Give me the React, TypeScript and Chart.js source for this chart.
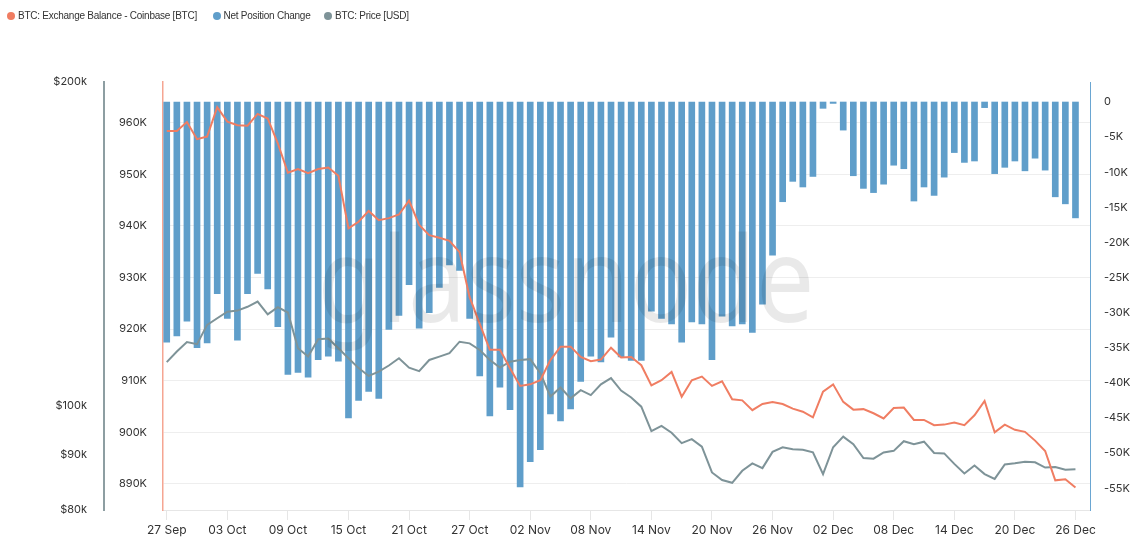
import React, { useEffect, useRef } from 'react';
import { Chart, registerables } from 'chart.js';

Chart.register(...registerables);

// Day index 0 = 27 Sep ... 90 = 26 Dec (daily)
const xTickIndex = [0, 6, 12, 18, 24, 30, 36, 42, 48, 54, 60, 66, 72, 78, 84, 90];
const xTickLabels = ['27 Sep', '03 Oct', '09 Oct', '15 Oct', '21 Oct', '27 Oct', '02 Nov', '08 Nov', '14 Nov', '20 Nov', '26 Nov', '02 Dec', '08 Dec', '14 Dec', '20 Dec', '26 Dec'];

// Net Position Change (thousands BTC)
const netPositionChange = [
  -34.2, -33.3, -31.2, -35.0, -34.3, -27.3, -30.8, -33.9, -27.3, -24.4,
  -26.6, -32.0, -38.8, -38.5, -39.2, -36.7, -36.2, -36.9, -45.0, -42.5,
  -41.2, -42.2, -32.4, -30.4, -26.0, -32.2, -30.0, -26.4, -23.2, -24.0,
  -30.8, -39.0, -44.7, -40.6, -43.8, -54.8, -51.2, -49.5, -44.4, -45.4,
  -43.7, -39.8, -36.2, -37.0, -33.5, -36.3, -36.8, -36.8, -29.8, -30.8,
  -31.6, -34.2, -31.3, -31.6, -36.7, -30.5, -31.9, -31.6, -32.8, -28.8,
  -21.8, -14.2, -11.3, -12.1, -10.6, -0.9, -0.2, -4.0, -10.5, -12.3,
  -12.9, -11.7, -9.0, -9.5, -14.1, -12.1, -13.3, -10.7, -7.2, -8.6,
  -8.4, -0.8, -10.2, -9.3, -8.4, -9.8, -8.0, -9.7, -13.5, -14.5,
  -16.5,
];

// BTC: Exchange Balance - Coinbase (thousands BTC)
const exchangeBalance = [
  958.4, 958.4, 960.1, 956.8, 957.3, 963.0, 960.2, 959.5, 959.4, 961.7,
  960.8, 956.0, 950.3, 951.0, 950.2, 951.0, 951.3, 949.7, 939.5, 940.8,
  942.9, 941.1, 941.5, 942.2, 944.9, 940.2, 938.2, 937.7, 937.1, 934.9,
  926.2, 921.0, 916.0, 916.0, 912.4, 909.0, 909.3, 910.1, 914.0, 916.6,
  916.6, 914.6, 913.8, 914.1, 916.4, 914.5, 914.6, 913.0, 909.1, 910.1,
  911.7, 906.9, 910.1, 910.8, 909.0, 909.9, 906.4, 906.2, 904.3, 905.5,
  905.9, 905.5, 904.6, 904.0, 902.9, 907.9, 909.3, 905.9, 904.4, 904.5,
  903.7, 902.7, 904.7, 904.8, 902.4, 902.4, 901.4, 901.5, 901.9, 901.4,
  903.3, 906.1, 900.0, 901.5, 900.5, 900.1, 898.4, 896.4, 890.7, 890.9,
  889.3,
];

// BTC: Price (thousands USD)
const btcPrice = [
  109.8, 112.3, 114.6, 114.1, 118.9, 120.6, 122.3, 122.6, 123.6, 125.0,
  121.6, 123.5, 122.1, 113.1, 111.1, 115.3, 115.5, 113.1, 110.7, 108.4,
  106.6, 107.6, 109.0, 110.7, 108.5, 107.7, 110.3, 111.1, 111.9, 114.7,
  114.3, 112.7, 110.3, 108.5, 109.9, 110.3, 110.5, 107.2, 102.0, 104.0,
  101.6, 103.4, 102.3, 104.7, 106.1, 103.3, 101.8, 99.8, 94.7, 95.8,
  94.4, 92.3, 93.1, 91.6, 86.7, 85.3, 84.8, 87.0, 88.4, 87.5,
  90.6, 91.5, 91.1, 91.0, 90.5, 86.4, 91.5, 93.6, 92.1, 89.4,
  89.3, 90.5, 90.8, 92.7, 92.1, 92.6, 90.4, 90.3, 88.3, 86.5,
  88.0, 86.4, 85.5, 88.2, 88.4, 88.7, 88.6, 87.6, 87.7, 87.2,
  87.3,
];

const priceTicks = [80, 90, 100, 200];
const balanceTicks = [890, 900, 910, 920, 930, 940, 950, 960];
const netTicks = [0, -5, -10, -15, -20, -25, -30, -35, -40, -45, -50, -55];

const seriesNames = ['BTC: Exchange Balance - Coinbase [BTC]', 'Net Position Change', 'BTC: Price [USD]'];

const COLOR_BAL = '#f07d62';
const COLOR_NET = '#5f9eca';
const COLOR_PRICE = '#7e9398';
const FONT = 'Inter, "Noto Sans", "Liberation Sans", sans-serif';

const watermark = {
  id: 'watermark',
  afterDatasetsDraw(chart: any) {
    const ctx = chart.ctx;
    ctx.save();
    const text = 'glassnode';
    const size = 118;
    ctx.font = `400 ${size}px "Noto Sans", sans-serif`;
    const w = ctx.measureText(text).width;
    const sx = 497 / w;
    ctx.translate(566, 322);
    ctx.scale(sx, 1);
    ctx.fillStyle = 'rgba(0,0,0,0.085)';
    ctx.textAlign = 'center';
    ctx.textBaseline = 'alphabetic';
    ctx.fillText(text, 0, 0);
    ctx.restore();
  },
};

export default function App() {
  const canvasRef = useRef<HTMLCanvasElement | null>(null);

  useEffect(() => {
    document.body.style.margin = '0';
    const canvas = canvasRef.current;
    if (!canvas) return;
    const chart = new Chart(canvas, {
      data: {
        datasets: [
          {
            type: 'line',
            label: seriesNames[0],
            data: exchangeBalance.map((v, i) => ({ x: i, y: v })),
            yAxisID: 'yBal',
            borderColor: COLOR_BAL,
            borderWidth: 2,
            pointRadius: 0,
            tension: 0,
            order: 1,
          },
          {
            type: 'bar',
            label: seriesNames[1],
            data: netPositionChange.map((v, i) => ({ x: i, y: v })),
            yAxisID: 'yNet',
            backgroundColor: COLOR_NET,
            barThickness: 6,
            order: 3,
          },
          {
            type: 'line',
            label: seriesNames[2],
            data: btcPrice.map((v, i) => ({ x: i, y: v })),
            yAxisID: 'yPrice',
            borderColor: COLOR_PRICE,
            borderWidth: 2,
            pointRadius: 0,
            tension: 0,
            order: 2,
          },
        ] as any,
      },
      options: {
        responsive: false,
        animation: false,
        devicePixelRatio: 1,
        layout: { padding: { top: 82, left: 0, right: 0, bottom: 0 } },
        plugins: {
          legend: { display: false },
          tooltip: { enabled: false },
        },
        scales: {
          x: {
            type: 'linear',
            offset: false,
            min: -0.37,
            max: 91.44,
            afterBuildTicks: (s: any) => {
              s.ticks = xTickIndex.map((v) => ({ value: v }));
            },
            afterFit: (s: any) => {
              s.height = 29;
            },
            ticks: {
              callback: (v: any) => {
                const k = xTickIndex.indexOf(Number(v));
                return k >= 0 ? xTickLabels[k] : '';
              },
              autoSkip: false,
              maxRotation: 0,
              padding: 3,
              color: '#333',
              font: { size: 12, family: FONT },
            },
            grid: { offset: false, drawOnChartArea: false, drawTicks: true, tickLength: 10, color: '#e6e6e6' },
            border: { display: true, color: '#e6e6e6', width: 1 },
          },
          yPrice: {
            type: 'logarithmic',
            position: 'left',
            weight: 2,
            min: 80,
            max: 200,
            afterBuildTicks: (s: any) => {
              s.ticks = priceTicks.map((v) => ({ value: v }));
            },
            afterFit: (s: any) => {
              s.width = 104;
            },
            ticks: {
              callback: (v: any) => '$' + v + 'k',
              padding: 17,
              color: '#333',
              font: { size: 11, family: FONT },
            },
            grid: { display: false, drawTicks: false },
            border: { display: true, color: '#8d9ea2', width: 2 },
          },
          yBal: {
            type: 'linear',
            position: 'left',
            weight: 1,
            min: 884.96,
            max: 967.87,
            afterBuildTicks: (s: any) => {
              s.ticks = balanceTicks.map((v) => ({ value: v }));
            },
            afterFit: (s: any) => {
              s.width = 59;
            },
            ticks: {
              callback: (v: any) => v + 'K',
              padding: 16,
              color: '#333',
              font: { size: 11, family: FONT },
            },
            grid: { display: true, drawTicks: false, color: '#eeeeee', lineWidth: 1 },
            border: { display: true, color: '#f5a592', width: 1.5 },
          },
          yNet: {
            type: 'linear',
            position: 'right',
            min: -58.1,
            max: 2.85,
            afterBuildTicks: (s: any) => {
              s.ticks = netTicks.map((v) => ({ value: v }));
            },
            afterFit: (s: any) => {
              s.width = 44;
            },
            ticks: {
              callback: (v: any) => (Number(v) === 0 ? '0' : v + 'K'),
              padding: 14,
              color: '#333',
              font: { size: 11, family: FONT },
            },
            grid: { display: false, drawTicks: false },
            border: { display: true, color: '#6aa6d2', width: 1 },
          },
        } as any,
      },
      plugins: [watermark],
    } as any);
    return () => chart.destroy();
  }, []);

  const legendItems = [
    { left: 7, color: COLOR_BAL, text: seriesNames[0] },
    { left: 212.5, color: COLOR_NET, text: seriesNames[1] },
    { left: 324, color: COLOR_PRICE, text: seriesNames[2] },
  ];

  return (
    <div style={{ position: 'relative', width: 1134, height: 539, overflow: 'hidden', background: '#fff' }}>
      {legendItems.map((it) => (
        <div
          key={it.text}
          style={{
            position: 'absolute',
            left: it.left,
            top: 9,
            display: 'flex',
            alignItems: 'center',
            font: '10px "Liberation Sans", Arial, sans-serif',
            letterSpacing: '-0.25px',
            color: '#333',
            whiteSpace: 'nowrap',
            lineHeight: '14px',
          }}
        >
          <span
            style={{
              display: 'inline-block',
              width: 8,
              height: 8,
              borderRadius: 4,
              background: it.color,
              marginRight: 3,
            }}
          />
          <span>{it.text}</span>
        </div>
      ))}
      <canvas ref={canvasRef} width={1134} height={539} style={{ display: 'block' }} />
    </div>
  );
}
